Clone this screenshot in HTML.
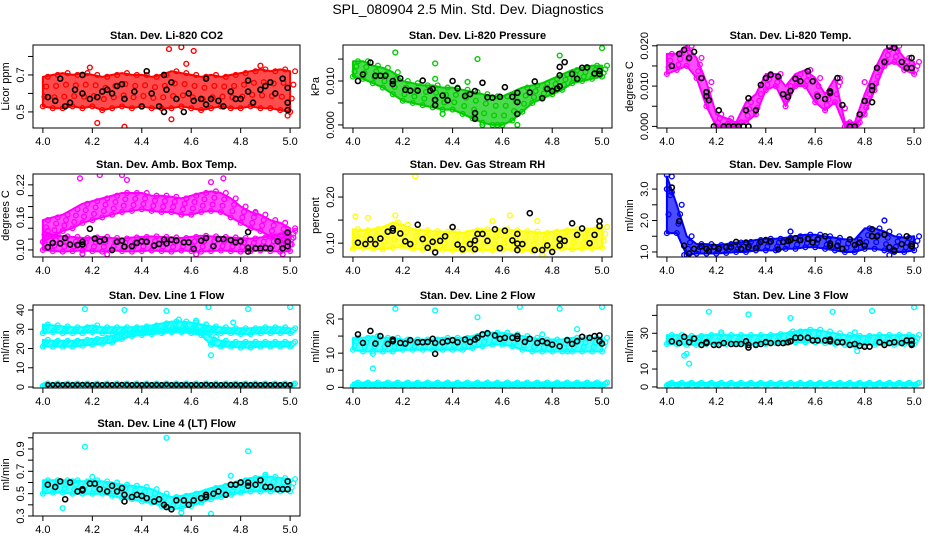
<!DOCTYPE html>
<html><head><meta charset="utf-8"><style>
html,body{margin:0;padding:0;background:#fff;}
svg{display:block;font-family:"Liberation Sans",sans-serif;}
</style></head><body>
<svg id="chart" width="936" height="540" viewBox="0 0 936 540">
<text x="468" y="14" text-anchor="middle" font-size="14">SPL_080904  2.5 Min. Std. Dev. Diagnostics</text>
</svg>
<script>
// ---------- shared grid ----------
const gridX = [4.00,4.04,4.08,4.12,4.16,4.20,4.24,4.28,4.32,4.36,4.40,4.44,4.48,4.52,4.56,4.60,4.64,4.68,4.72,4.76,4.80,4.84,4.88,4.92,4.96,5.00];
const xTicks = [4.0,4.2,4.4,4.6,4.8,5.0];
const xTickLabels = ["4.0","4.2","4.4","4.6","4.8","5.0"];

// ---------- P1 CO2 ----------
const co2Lo = [0.53,0.52,0.52,0.53,0.52,0.53,0.51,0.52,0.53,0.52,0.53,0.52,0.52,0.52,0.53,0.52,0.51,0.52,0.53,0.52,0.52,0.53,0.52,0.52,0.51,0.50];
const co2Hi = [0.69,0.70,0.71,0.70,0.71,0.70,0.69,0.70,0.71,0.70,0.70,0.69,0.70,0.72,0.71,0.70,0.69,0.70,0.69,0.70,0.71,0.72,0.73,0.72,0.73,0.72];
const co2Out = [[4.51,0.84],[4.56,0.85],[4.58,0.76],[4.61,0.83],[4.22,0.44],[4.33,0.42],[4.52,0.46],[4.19,0.74],[4.88,0.75],[4.99,0.48]];
const co2Black = [[4.02,0.58],[4.05,0.56],[4.07,0.68],[4.09,0.53],[4.11,0.55],[4.13,0.62],[4.16,0.60],[4.16,0.70],[4.19,0.57],[4.22,0.58],[4.24,0.61],[4.26,0.62],[4.28,0.60],[4.30,0.64],[4.32,0.65],[4.33,0.57],[4.37,0.61],[4.40,0.53],[4.42,0.72],[4.44,0.60],[4.47,0.53],[4.49,0.50],[4.49,0.70],[4.50,0.62],[4.52,0.66],[4.54,0.57],[4.57,0.50],[4.59,0.60],[4.61,0.56],[4.64,0.57],[4.66,0.68],[4.66,0.54],[4.68,0.57],[4.71,0.56],[4.73,0.53],[4.76,0.61],[4.78,0.57],[4.80,0.57],[4.83,0.61],[4.83,0.67],[4.85,0.55],[4.88,0.62],[4.90,0.64],[4.92,0.66],[4.94,0.60],[4.97,0.68],[4.99,0.63],[4.99,0.55],[4.99,0.51]];

// ---------- P2 Pressure ----------
const presLo = [.0110,.0105,.0095,.0085,.0070,.0055,.0050,.0045,.0040,.0035,.0035,.0025,.0015,.0005,.0000,.0000,.0010,.0030,.0050,.0060,.0070,.0080,.0095,.0100,.0105,.0110];
const presHi = [.0145,.0145,.0135,.0130,.0120,.0100,.0095,.0090,.0090,.0085,.0085,.0080,.0075,.0070,.0065,.0065,.0075,.0085,.0090,.0095,.0105,.0115,.0125,.0130,.0135,.0135];
const presOut = [[4.17,.0165],[4.33,.0140],[4.50,.0150],[4.83,.0158],[5.00,.0175],[4.52,0],[4.58,0],[4.66,0],[4.33,.0105],[4.46,.0098],[4.36,.0025]];
const presBlack = [[4.02,.0100],[4.04,.0115],[4.07,.0142],[4.09,.0112],[4.11,.0112],[4.13,.0112],[4.16,.0100],[4.16,.0093],[4.19,.0106],[4.21,.0080],[4.23,.0078],[4.26,.0078],[4.28,.0101],[4.31,.0078],[4.32,.0082],[4.33,.0057],[4.33,.0045],[4.36,.0067],[4.38,.0056],[4.40,.0100],[4.42,.0083],[4.45,.0066],[4.47,.0070],[4.49,.0077],[4.49,.0027],[4.49,.0014],[4.52,.0096],[4.54,.0063],[4.56,.0062],[4.59,.0064],[4.61,.0086],[4.64,.0064],[4.66,.0073],[4.66,.0052],[4.66,.0025],[4.71,.0074],[4.73,.0099],[4.76,.0061],[4.78,.0082],[4.80,.0077],[4.82,.0083],[4.83,.0088],[4.83,.0113],[4.83,.0132],[4.85,.0143],[4.88,.0116],[4.90,.0105],[4.92,.0130],[4.94,.0131],[4.97,.0117],[4.99,.0123],[4.99,.0116]];

// ---------- P3 Li-820 Temp ----------
const tempLo = [.013,.014,.015,.012,.005,.000,.000,.000,.001,.003,.009,.010,.005,.010,.010,.006,.004,.006,.000,.000,.003,.009,.015,.016,.014,.013];
const tempHi = [.018,.018,.020,.017,.011,.003,.002,.001,.006,.008,.013,.013,.010,.013,.014,.012,.008,.012,.001,.001,.008,.014,.019,.020,.017,.016];
const tempOut = [[4.70,.0110],[4.72,.0045],[4.80,.0110]];
const tempBlack = [[4.02,.015],[4.05,.018],[4.07,.019],[4.09,.017],[4.11,.0185],[4.14,.0120],[4.16,.0085],[4.16,.0075],[4.17,.0065],[4.19,0],[4.21,.0040],[4.23,0],[4.25,0],[4.27,0],[4.29,0],[4.31,0],[4.32,.0040],[4.33,.0070],[4.33,0],[4.36,.0040],[4.38,.0103],[4.40,.0120],[4.42,.0128],[4.45,.0124],[4.47,.0080],[4.49,.0073],[4.50,.0088],[4.52,.0118],[4.54,.0112],[4.57,.0137],[4.59,.0112],[4.61,.0075],[4.64,.0068],[4.66,.0083],[4.66,.0087],[4.69,.0120],[4.71,.0053],[4.74,0],[4.76,0],[4.78,.0030],[4.80,.0063],[4.83,.0060],[4.83,.0090],[4.83,.0100],[4.85,.0145],[4.88,.0160],[4.90,.0198],[4.92,.0195],[4.95,.0160],[4.97,.0145],[4.99,.0145],[4.99,.0170]];

// ---------- P4 Amb Box Temp ----------
const ambUpLo = [.115,.125,.135,.140,.150,.155,.160,.165,.170,.172,.175,.172,.170,.170,.165,.165,.170,.172,.170,.160,.150,.140,.135,.125,.115,.110];
const ambUpHi = [.155,.160,.165,.175,.185,.190,.195,.200,.205,.205,.205,.200,.200,.198,.195,.200,.205,.208,.205,.195,.180,.170,.165,.155,.150,.140];
const ambLowLo = [.100,.098,.097,.098,.099,.098,.097,.099,.098,.097,.098,.099,.098,.097,.099,.098,.097,.098,.099,.098,.097,.098,.099,.098,.097,.098];
const ambLowHi = [.135,.128,.125,.124,.122,.123,.124,.122,.121,.123,.124,.125,.124,.123,.122,.124,.126,.125,.124,.123,.122,.121,.123,.125,.130,.135];
const ambOut = [[4.15,.232],[4.23,.238],[4.32,.238],[4.73,.232],[4.68,.225],[4.16,.093],[4.26,.092],[4.62,.092],[4.97,.092],[4.34,.229],[4.86,.168]];
const ambBlack = [[4.02,.105],[4.04,.113],[4.07,.112],[4.09,.122],[4.11,.110],[4.14,.109],[4.16,.110],[4.16,.115],[4.19,.139],[4.21,.121],[4.23,.116],[4.25,.119],[4.28,.100],[4.30,.115],[4.32,.117],[4.33,.106],[4.36,.107],[4.38,.113],[4.40,.116],[4.42,.115],[4.45,.108],[4.47,.111],[4.49,.119],[4.50,.112],[4.52,.119],[4.54,.117],[4.57,.114],[4.59,.114],[4.61,.102],[4.64,.117],[4.66,.122],[4.69,.107],[4.71,.120],[4.73,.120],[4.76,.118],[4.78,.114],[4.80,.116],[4.83,.104],[4.83,.133],[4.83,.097],[4.86,.103],[4.88,.103],[4.90,.104],[4.92,.103],[4.95,.116],[4.97,.103],[4.99,.132],[4.99,.107],[4.99,.115]];

// ---------- P5 Gas Stream RH ----------
const rhLo = [.088,.090,.088,.087,.090,.092,.088,.086,.087,.086,.085,.084,.085,.086,.085,.086,.087,.085,.084,.085,.086,.088,.087,.088,.089,.090];
const rhHi = [.130,.128,.130,.135,.145,.140,.130,.128,.126,.125,.125,.122,.128,.130,.128,.130,.128,.126,.125,.122,.125,.128,.130,.128,.132,.135];
const rhOut = [[4.25,.245],[4.01,.158],[4.06,.155],[4.63,.160],[4.76,.075],[4.17,.160],[4.56,.148],[4.74,.148]];
const rhBlack = [[4.02,.101],[4.05,.098],[4.07,.108],[4.09,.098],[4.11,.110],[4.14,.125],[4.16,.132],[4.16,.127],[4.19,.121],[4.21,.104],[4.23,.098],[4.26,.140],[4.28,.109],[4.30,.090],[4.32,.103],[4.33,.080],[4.35,.105],[4.37,.115],[4.40,.135],[4.42,.097],[4.44,.087],[4.47,.098],[4.49,.087],[4.49,.106],[4.50,.120],[4.52,.120],[4.54,.105],[4.57,.130],[4.59,.089],[4.61,.127],[4.64,.106],[4.66,.120],[4.66,.099],[4.66,.085],[4.68,.098],[4.71,.165],[4.73,.085],[4.76,.085],[4.78,.095],[4.80,.081],[4.83,.109],[4.83,.095],[4.85,.105],[4.88,.143],[4.90,.118],[4.92,.132],[4.95,.100],[4.97,.118],[4.99,.148],[4.99,.137]];

// ---------- P6 Sample Flow ----------
const sfLo = [1.6,1.6,0.9,0.95,0.95,0.95,0.97,1.0,1.0,1.05,1.05,1.05,1.1,1.1,1.15,1.15,1.1,1.05,1.0,1.0,1.1,1.1,1.05,1.0,1.0,1.05];
const sfHi = [3.4,2.5,1.5,1.25,1.25,1.22,1.25,1.3,1.32,1.38,1.42,1.42,1.45,1.5,1.55,1.55,1.5,1.45,1.4,1.4,1.75,1.75,1.65,1.5,1.45,1.5];
const sfOut = [[4.00,3.45],[4.00,3.0],[4.02,2.9],[4.88,2.0],[4.90,0.9],[4.07,0.9],[4.50,1.65]];
const sfBlack = [[4.02,3.05],[4.05,1.98],[4.07,1.2],[4.09,0.95],[4.11,1.1],[4.14,1.18],[4.16,1.1],[4.17,1.02],[4.19,1.17],[4.21,1.1],[4.24,1.15],[4.26,1.15],[4.28,1.32],[4.30,1.1],[4.32,1.3],[4.33,1.15],[4.36,1.12],[4.38,1.32],[4.40,1.38],[4.42,1.33],[4.45,1.08],[4.47,1.32],[4.49,1.35],[4.50,1.38],[4.52,1.44],[4.54,1.38],[4.57,1.42],[4.59,1.3],[4.61,1.4],[4.64,1.5],[4.66,1.27],[4.66,1.2],[4.69,1.2],[4.71,1.1],[4.74,1.4],[4.76,1.22],[4.78,1.3],[4.80,1.2],[4.83,1.72],[4.83,1.5],[4.85,1.5],[4.88,1.55],[4.90,1.15],[4.92,1.05],[4.95,1.25],[4.97,1.5],[4.99,1.25],[4.99,1.18]];

// ---------- P7 Line 1 Flow ----------
const l1UpLo = [28,28.5,28,28,28,28.5,28,28,28.5,28.5,28.5,29,29,29.5,29.5,29,28.5,28.5,28,28,27.5,27.5,28,28,28,28];
const l1UpHi = [32.5,32,31.5,31,31,32,31,31,31,31,31.5,32,33,34,34,33.5,32.5,31.5,31,30.5,30.5,30.5,31,31,31,30.5];
const l1LowLo = [21,21,21,21,21.5,22,22.5,23,25,26.5,27,27.5,28,28.5,28.5,28,27,22,21,21,20.5,20.5,21,21,21,21];
const l1LowHi = [24.5,24,24,24,24.5,25,25.5,26.5,28,29,29.5,30,30,30.5,30.5,30,29.5,26,24,23.5,23.5,23.5,23.5,23.5,23.5,23.5];
const l1BaseLo = [0.6,0.6,0.6,0.6,0.6,0.6,0.6,0.6,0.6,0.6,0.6,0.6,0.6,0.6,0.6,0.6,0.6,0.6,0.6,0.6,0.6,0.6,0.6,0.6,0.6,0.6];
const l1BaseHi = [1.8,1.8,1.8,1.8,1.8,1.8,1.8,1.8,1.8,1.8,1.8,1.8,1.8,1.8,1.8,1.8,1.8,1.8,1.8,1.8,1.8,1.8,1.8,1.8,1.8,1.8];
const l1Out = [[4.17,40.5],[4.33,40],[4.50,39.5],[4.67,41.5],[4.83,40.5],[5.00,41.5],[4.68,16.5],[4.77,33.5],[4.55,35],[4.62,34.5]];
const l1Black = [[4.02,1.2],[4.04,1.2],[4.06,1.2],[4.08,1.2],[4.10,1.2],[4.12,1.2],[4.14,1.2],[4.16,1.3],[4.18,1.2],[4.20,1.2],[4.22,1.2],[4.24,1.2],[4.26,1.2],[4.28,1.2],[4.30,1.2],[4.32,1.3],[4.34,1.2],[4.36,1.2],[4.38,1.2],[4.40,1.2],[4.42,1.2],[4.44,1.2],[4.46,1.2],[4.48,1.2],[4.50,1.3],[4.52,1.2],[4.54,1.2],[4.56,1.2],[4.58,1.2],[4.60,1.2],[4.62,1.2],[4.64,1.2],[4.66,1.3],[4.68,1.2],[4.70,1.2],[4.72,1.2],[4.74,1.2],[4.76,1.2],[4.78,1.2],[4.80,1.2],[4.82,1.2],[4.84,1.2],[4.86,1.2],[4.88,1.2],[4.90,1.2],[4.92,1.2],[4.94,1.2],[4.96,1.2],[4.98,1.2],[5.00,1.2]];

// ---------- P8 Line 2 Flow ----------
const l2Lo = [11,10.5,10.5,10.5,10.5,11,11,11,11,11,11,11,11.5,12,12.5,12.5,12,11,10.5,10.5,10.5,10.5,10.5,10.5,10.5,10.5];
const l2Hi = [14.5,14.5,15,14.5,14.5,14,14,14,14,14.5,14.5,14.5,15,16,16,16,15.5,15,14.5,14,14,14,14.5,14.5,14.5,14.5];
const l2BaseLo = [0.4,0.4,0.4,0.4,0.4,0.4,0.4,0.4,0.4,0.4,0.4,0.4,0.4,0.4,0.4,0.4,0.4,0.4,0.4,0.4,0.4,0.4,0.4,0.4,0.4,0.4];
const l2BaseHi = [1.4,1.4,1.4,1.4,1.4,1.4,1.4,1.4,1.4,1.4,1.4,1.4,1.4,1.4,1.4,1.4,1.4,1.4,1.4,1.4,1.4,1.4,1.4,1.4,1.4,1.4];
const l2Out = [[4.17,23],[4.33,22.5],[4.50,20.5],[4.67,23.5],[4.83,23],[5.00,23.5],[4.08,5.5],[4.08,9.8],[4.90,17],[4.86,10.5],[4.76,15.5]];
const l2Black = [[4.02,15.5],[4.04,13],[4.07,16.5],[4.09,12.8],[4.11,15],[4.14,12.7],[4.16,14],[4.16,13.5],[4.19,13],[4.21,12.8],[4.23,13.8],[4.26,13.2],[4.28,13.2],[4.30,13.3],[4.32,14.2],[4.33,13],[4.33,9.8],[4.36,13.2],[4.38,13.5],[4.40,13.8],[4.42,13.2],[4.45,14],[4.47,13.3],[4.49,14],[4.50,14.5],[4.52,15.5],[4.54,15.8],[4.57,15.2],[4.59,14.2],[4.61,14.5],[4.64,14.5],[4.66,15],[4.66,14.2],[4.69,13.3],[4.71,14.2],[4.74,13],[4.76,13.5],[4.78,13],[4.80,12.5],[4.83,12],[4.86,13.8],[4.88,12.7],[4.90,13.5],[4.92,14.8],[4.95,14.5],[4.97,15],[4.99,15.2],[4.99,13.5],[5.00,12.8]];

// ---------- P9 Line 3 Flow ----------
const l3Lo = [24,24,23.5,23.5,24,24,24,24,24,24,24,24.5,24.5,25,25,25,24.5,24,23.5,23,23.5,23.5,23.5,23.5,24,24];
const l3Hi = [29,29,28.5,28.5,29,29.5,29,29,29,29,29,29.5,30,31,32,32,31,30,29,28.5,28.5,29,29,29,29,29];
const l3BaseLo = [0.8,0.8,0.8,0.8,0.8,0.8,0.8,0.8,0.8,0.8,0.8,0.8,0.8,0.8,0.8,0.8,0.8,0.8,0.8,0.8,0.8,0.8,0.8,0.8,0.8,0.8];
const l3BaseHi = [2.3,2.3,2.3,2.3,2.3,2.3,2.3,2.3,2.3,2.3,2.3,2.3,2.3,2.3,2.3,2.3,2.3,2.3,2.3,2.3,2.3,2.3,2.3,2.3,2.3,2.3];
const l3Out = [[4.17,42],[4.33,40.5],[4.50,38.5],[4.67,42],[4.83,42.5],[5.00,44.5],[4.07,17.5],[4.08,18.5],[4.09,13],[4.77,20],[4.51,31],[4.22,30.5],[4.76,30.5]];
const l3Black = [[4.02,25.5],[4.05,24.5],[4.07,28],[4.09,25],[4.11,27],[4.14,23.5],[4.16,25],[4.16,24.5],[4.19,23.5],[4.21,23.5],[4.23,24.5],[4.26,24],[4.28,24],[4.30,24],[4.32,25.5],[4.33,23.5],[4.33,22],[4.36,23.5],[4.38,24],[4.40,25],[4.42,24.5],[4.45,24.5],[4.47,24.5],[4.49,25],[4.50,25.5],[4.52,27.5],[4.54,27.5],[4.57,27.5],[4.59,26],[4.61,26],[4.64,26],[4.66,26.5],[4.66,25.5],[4.69,25],[4.71,25],[4.74,23.5],[4.76,24],[4.78,23],[4.80,22.5],[4.82,22.5],[4.86,25],[4.88,23.5],[4.90,24.5],[4.92,25],[4.95,24.5],[4.97,26],[4.99,26],[4.99,24],[4.99,23.5]];

// ---------- P10 Line 4 (LT) Flow ----------
const l4Lo = [.50,.51,.51,.50,.50,.50,.50,.48,.46,.45,.43,.42,.39,.36,.37,.39,.42,.45,.47,.49,.51,.52,.52,.52,.52,.52];
const l4Hi = [.62,.62,.62,.62,.61,.62,.61,.60,.58,.57,.56,.54,.50,.47,.48,.50,.52,.55,.57,.59,.62,.64,.65,.65,.64,.63];
const l4Out = [[4.17,.92],[4.50,1.0],[4.83,.88],[4.08,.37],[4.56,.33],[4.68,.32],[4.76,.66],[4.90,.67],[4.20,.65],[4.12,.61]];
const l4Black = [[4.02,.58],[4.05,.56],[4.07,.61],[4.09,.45],[4.11,.60],[4.14,.52],[4.16,.53],[4.16,.54],[4.19,.59],[4.21,.59],[4.23,.54],[4.26,.52],[4.28,.57],[4.30,.52],[4.32,.55],[4.33,.49],[4.33,.43],[4.36,.47],[4.38,.49],[4.40,.48],[4.42,.46],[4.45,.43],[4.47,.45],[4.49,.40],[4.50,.38],[4.52,.36],[4.54,.44],[4.57,.44],[4.59,.40],[4.61,.44],[4.64,.46],[4.66,.49],[4.66,.47],[4.69,.50],[4.71,.52],[4.74,.49],[4.76,.58],[4.78,.58],[4.80,.60],[4.83,.60],[4.83,.57],[4.86,.58],[4.88,.62],[4.90,.56],[4.92,.56],[4.95,.54],[4.97,.54],[4.99,.61],[4.99,.54]];

// ---------- axis ticks ----------
const p1Ticks=[0.5,0.6,0.7,0.8], p1Labels=[[0.5,"0.5"],[0.7,"0.7"]];
const p2Ticks=[0,0.005,0.01,0.015], p2Labels=[[0,"0.000"],[0.01,"0.010"]];
const p3Ticks=[0,0.005,0.01,0.015,0.02], p3Labels=[[0,"0.000"],[0.01,"0.010"],[0.02,"0.020"]];
const p4Ticks=[0.10,0.12,0.14,0.16,0.18,0.20,0.22], p4Labels=[[0.10,"0.10"],[0.16,"0.16"],[0.22,"0.22"]];
const p5Ticks=[0.10,0.15,0.20], p5Labels=[[0.10,"0.10"],[0.20,"0.20"]];
const p6Ticks=[1.0,1.5,2.0,2.5,3.0], p6Labels=[[1,"1.0"],[2,"2.0"],[3,"3.0"]];
const p7Ticks=[0,10,20,30,40], p7Labels=[[0,"0"],[10,"10"],[20,"20"],[30,"30"],[40,"40"]];
const p8Ticks=[0,5,10,15,20], p8Labels=[[0,"0"],[5,"5"],[10,"10"],[20,"20"]];
const p9Ticks=[0,10,20,30,40], p9Labels=[[0,"0"],[10,"10"],[30,"30"]];
const p10Ticks=[0.3,0.4,0.5,0.6,0.7,0.8,0.9,1.0], p10Labels=[[0.3,"0.3"],[0.5,"0.5"],[0.7,"0.7"],[0.9,"0.9"]];

const NS="http://www.w3.org/2000/svg";
const svg=document.getElementById('chart');
const colL=[[33,300],[343,612],[657,924]];
const rowT=[45,174,305,433];
const H=83;
function mk(tag,attrs,parent){const e=document.createElementNS(NS,tag);for(const k in attrs)e.setAttribute(k,attrs[k]);(parent||svg).appendChild(e);return e;}

function panel(p){
  const [x0,x1]=colL[p.col]; const y0=rowT[p.row], y1=y0+H;
  const g=mk('g',{});
  
  
  const sx=v=>x0+(v-3.96)/(1.08)*(x1-x0);
  const sy=v=>y1-(v-p.ymin)/(p.ymax-p.ymin)*H;
  const cid='clip'+p.name;
  const cp=mk('clipPath',{id:cid},g); mk('rect',{x:x0,y:y0,width:x1-x0,height:H},cp);
  const pg=mk('g',{'clip-path':'url(#'+cid+')'},g);
  p.bands.forEach(b=>{
    const lo=b[0],hi=b[1];
    let d='';
    gridX.forEach((x,i)=>{d+=(i?'L':'M')+sx(x).toFixed(1)+','+sy(hi[i]).toFixed(1);});
    for(let i=gridX.length-1;i>=0;i--)d+='L'+sx(gridX[i]).toFixed(1)+','+sy(lo[i]).toFixed(1);
    const band=mk('path',{d:d+'Z',fill:p.color,'fill-opacity':0.7,stroke:p.color,'stroke-width':2,'stroke-linejoin':'round'},pg);
    
    
    [0,0.33,0.67,1].forEach(f=>{
      gridX.forEach((x,i)=>{
        const v=lo[i]+(hi[i]-lo[i])*f;
        const c=mk('circle',{cx:sx(x+(f*0.02)),cy:sy(v),r:2.4,fill:'none',stroke:p.color,'stroke-width':1.3},pg);
        
        
      });
    });
  });
  p.out.forEach(pt=>{
    const c=mk('circle',{cx:sx(pt[0]),cy:sy(pt[1]),r:2.4,fill:'none',stroke:p.color,'stroke-width':1.4},pg);
    
    
  });
  p.black.forEach(pt=>{
    const c=mk('circle',{cx:sx(pt[0]),cy:sy(pt[1]),r:p.br||2.5,fill:'none',stroke:'#000','stroke-width':1.6},pg);
    
    
  });
  const box=mk('rect',{x:x0,y:y0,width:x1-x0,height:H,fill:'none',stroke:'#000','stroke-width':1},g);
  
  
  mk('line',{x1:sx(4),x2:sx(5),y1:y1,y2:y1,stroke:'#000'},g);
  xTicks.forEach((t,i)=>{
    mk('line',{x1:sx(t),x2:sx(t),y1:y1,y2:y1+5,stroke:'#000'},g);
    const tx=mk('text',{x:sx(t),y:y1+17,'text-anchor':'middle','font-size':11},g);
    tx.textContent=xTickLabels[i];
    
    
  });
  p.ticks.forEach(t=>{mk('line',{x1:x0-5,x2:x0,y1:sy(t),y2:sy(t),stroke:'#000'},g);});
  p.labels.forEach(l=>{
    const yy=sy(l[0]);
    const tx=mk('text',{x:x0-9,y:yy,'text-anchor':'middle','font-size':11,transform:'rotate(-90 '+(x0-9)+' '+yy+')'},g);
    tx.textContent=l[1];
    
    
  });
  const yt=mk('text',{x:x0-24,y:(y0+y1)/2,'text-anchor':'middle','font-size':11,transform:'rotate(-90 '+(x0-24)+' '+((y0+y1)/2)+')'},g);
  yt.textContent=p.ylab;
  
  
  const tt=mk('text',{x:(x0+x1)/2,y:y0-6,'text-anchor':'middle','font-size':11,'font-weight':'bold'},g);
  tt.textContent=p.title;
  
  
}

panel({name:'co2-panel',col:0,row:0,ymin:0.413,ymax:0.862,color:'#ff0000',title:'Stan. Dev. Li-820 CO2',ylab:'Licor ppm',ticks:p1Ticks,labels:p1Labels,bands:[[co2Lo,co2Hi]],out:co2Out,black:co2Black});
panel({name:'pressure-panel',col:1,row:0,ymin:-0.0007,ymax:0.0182,color:'#00cc00',title:'Stan. Dev. Li-820 Pressure',ylab:'kPa',ticks:p2Ticks,labels:p2Labels,bands:[[presLo,presHi]],out:presOut,black:presBlack});
panel({name:'temp-panel',col:2,row:0,ymin:-0.0004,ymax:0.0202,color:'#ff00ff',title:'Stan. Dev. Li-820 Temp.',ylab:'degrees C',ticks:p3Ticks,labels:p3Labels,bands:[[tempLo,tempHi]],out:tempOut,black:tempBlack});
panel({name:'amb-temp-panel',col:0,row:1,ymin:0.087,ymax:0.24,color:'#ff00ff',title:'Stan. Dev. Amb. Box Temp.',ylab:'degrees C',ticks:p4Ticks,labels:p4Labels,bands:[[ambUpLo,ambUpHi],[ambLowLo,ambLowHi]],out:ambOut,black:ambBlack});
panel({name:'rh-panel',col:1,row:1,ymin:0.07,ymax:0.25,color:'#ffff00',title:'Stan. Dev. Gas Stream RH',ylab:'percent',ticks:p5Ticks,labels:p5Labels,bands:[[rhLo,rhHi]],out:rhOut,black:rhBlack});
panel({name:'sample-flow-panel',col:2,row:1,ymin:0.84,ymax:3.48,color:'#0000ff',title:'Stan. Dev. Sample Flow',ylab:'ml/min',ticks:p6Ticks,labels:p6Labels,bands:[[sfLo,sfHi]],out:sfOut,black:sfBlack});
panel({name:'line1-panel',col:0,row:2,ymin:-0.5,ymax:42.6,color:'#00ffff',title:'Stan. Dev. Line 1 Flow',ylab:'ml/min',ticks:p7Ticks,labels:p7Labels,bands:[[l1UpLo,l1UpHi],[l1LowLo,l1LowHi],[l1BaseLo,l1BaseHi]],out:l1Out,black:l1Black,br:2});
panel({name:'line2-panel',col:1,row:2,ymin:-0.2,ymax:24.1,color:'#00ffff',title:'Stan. Dev. Line 2 Flow',ylab:'ml/min',ticks:p8Ticks,labels:p8Labels,bands:[[l2Lo,l2Hi],[l2BaseLo,l2BaseHi]],out:l2Out,black:l2Black});
panel({name:'line3-panel',col:2,row:2,ymin:-0.6,ymax:45.8,color:'#00ffff',title:'Stan. Dev. Line 3 Flow',ylab:'ml/min',ticks:p9Ticks,labels:p9Labels,bands:[[l3Lo,l3Hi],[l3BaseLo,l3BaseHi]],out:l3Out,black:l3Black});
panel({name:'line4-panel',col:0,row:3,ymin:0.3,ymax:1.043,color:'#00ffff',title:'Stan. Dev. Line 4 (LT) Flow',ylab:'ml/min',ticks:p10Ticks,labels:p10Labels,bands:[[l4Lo,l4Hi]],out:l4Out,black:l4Black});
</script>
</body></html>
